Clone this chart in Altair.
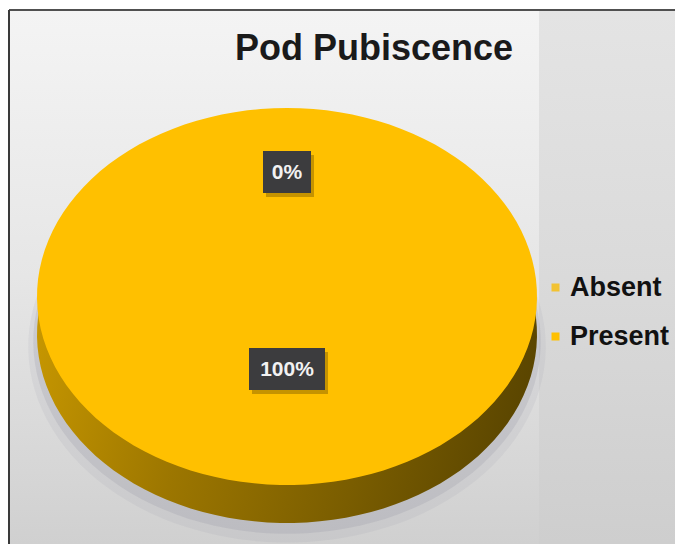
import altair as alt
import pandas as pd

# ---- data ----
categories = ["Absent", "Present"]
values = [0, 100]
label_texts = ["0%", "100%"]
colors = ["#F2C232", "#FFC000"]
title_text = "Pod Pubiscence"

df = pd.DataFrame({
    "category": categories,
    "value": values,
    "label": label_texts,
    "order": list(range(len(categories))),
})

W, H = 675, 544
CX, CY, RX, RY = 287, 296.5, 250, 188.5
DEPTH = 38
N = 120
LR = 0.5225      # label radius (fraction of radius)
LSHIFT = 26      # labels lifted (px)
FONT = "Liberation Sans"

xs = alt.Scale(domain=[-1, 1], range=[CX - RX, CX + RX], nice=False, zero=False)
ys = alt.Scale(domain=[-1, 1], range=[CY + RY, CY - RY], nice=False, zero=False)


def grad(stops, x1=0, y1=0, x2=0, y2=1):
    return {"gradient": "linear", "x1": x1, "y1": y1, "x2": x2, "y2": y2,
            "stops": [{"offset": o, "color": c} for o, c in stops]}


one = alt.Data(values=[{}])

# ---- background ----
bg_left = alt.Chart(one).mark_rect(
    color=grad([(0, "#f4f4f4"), (0.5, "#e6e6e6"), (1, "#d0d0d0")])
).encode(x=alt.value(10), x2=alt.value(539), y=alt.value(11), y2=alt.value(H))

bg_right = alt.Chart(one).mark_rect(
    color=grad([(0, "#e4e4e4"), (0.5, "#dadada"), (1, "#cecece")])
).encode(x=alt.value(539), x2=alt.value(W), y=alt.value(11), y2=alt.value(H))

border_top = alt.Chart(one).mark_rule(color="#505050", strokeWidth=2).encode(
    x=alt.value(9), x2=alt.value(W), y=alt.value(10))
border_left = alt.Chart(one).mark_rule(color="#3a3a3a", strokeWidth=2).encode(
    x=alt.value(9), y=alt.value(10), y2=alt.value(H))

# ---- pie geometry from the data ----
base = alt.Chart(df).transform_joinaggregate(
    total="sum(value)"
).transform_window(
    cum="sum(value)", sort=[alt.SortField("order")]
).transform_calculate(
    start="(datum.cum - datum.value) / datum.total",
    end="datum.cum / datum.total",
    mid="(datum.cum - datum.value / 2) / datum.total",
)

poly = base.transform_calculate(
    step=f"sequence(0, {N + 1})"
).transform_flatten(["step"]).transform_calculate(
    ang=f"2 * PI * (datum.start + (datum.end - datum.start) * (datum.step - 1) / {N - 1})"
).transform_calculate(
    px="datum.step == 0 ? 0 : sin(datum.ang)",
    py="datum.step == 0 ? 0 : cos(datum.ang)",
).transform_calculate(
    pys=f"datum.py - {DEPTH / RY}",
    sx1="datum.px * 1.015",
    sy1=f"datum.py * 1.02 - {(DEPTH + 7) / RY}",
    sx2="datum.px * 1.035",
    sy2=f"datum.py * 1.04 - {(DEPTH + 12) / RY}",
)

shadow2 = poly.transform_filter("datum.value > 0").mark_line(
    filled=True, fill="#8a8aa0", opacity=0.10, strokeWidth=0
).encode(x=alt.X("sx2:Q", scale=xs, axis=None), y=alt.Y("sy2:Q", scale=ys, axis=None),
         order="step:Q", detail="category:N")

shadow1 = poly.transform_filter("datum.value > 0").mark_line(
    filled=True, fill="#7a7a90", opacity=0.16, strokeWidth=0
).encode(x=alt.X("sx1:Q", scale=xs, axis=None), y=alt.Y("sy1:Q", scale=ys, axis=None),
         order="step:Q", detail="category:N")

side = poly.transform_filter("datum.value > 0").mark_line(
    filled=True, strokeWidth=0,
    fill=grad([(0, "#c89800"), (0.35, "#9c7600"), (0.7, "#7a5d00"), (1, "#5a4500")],
              x1=0, y1=0.4, x2=1, y2=0.6)
).encode(x=alt.X("px:Q", scale=xs, axis=None), y=alt.Y("pys:Q", scale=ys, axis=None),
         order="step:Q", detail="category:N")

top = poly.mark_line(filled=True, strokeWidth=0).encode(
    x=alt.X("px:Q", scale=xs, axis=None),
    y=alt.Y("py:Q", scale=ys, axis=None),
    color=alt.Color(
        "category:N",
        scale=alt.Scale(domain=categories, range=colors),
        legend=alt.Legend(
            orient="none", legendX=542, legendY=274, title=None,
            symbolType="square", symbolSize=64, symbolStrokeWidth=0,
            labelFont=FONT, labelFontSize=27, labelFontWeight="bold",
            labelColor="#111111", labelOffset=1, rowPadding=21, padding=0,
            labelLimit=200,
        ),
    ),
    order="step:Q",
)

# ---- data labels ----
lab = base.transform_calculate(
    lx=f"{LR} * sin(2 * PI * datum.mid)",
    ly=f"{LR} * cos(2 * PI * datum.mid) + {LSHIFT / RY}",
).transform_calculate(
    hw=f"(10 + 7 * length(datum.label)) / {RX}",
    hh=f"{21 / RY}",
).transform_calculate(
    bx1="datum.lx - datum.hw", bx2="datum.lx + datum.hw",
    by1="datum.ly - datum.hh", by2="datum.ly + datum.hh",
    sbx1=f"datum.lx - datum.hw + {3 / RX}", sbx2=f"datum.lx + datum.hw + {3 / RX}",
    sby1=f"datum.ly - datum.hh - {4 / RY}", sby2=f"datum.ly + datum.hh - {4 / RY}",
)

box_shadow = lab.mark_rect(color="#5a4000", opacity=0.35).encode(
    x=alt.X("sbx1:Q", scale=xs, axis=None), x2="sbx2:Q",
    y=alt.Y("sby1:Q", scale=ys, axis=None), y2="sby2:Q")

box = lab.mark_rect(color="#3c3c3e").encode(
    x=alt.X("bx1:Q", scale=xs, axis=None), x2="bx2:Q",
    y=alt.Y("by1:Q", scale=ys, axis=None), y2="by2:Q")

text = lab.mark_text(font=FONT, fontSize=21, fontWeight="bold", color="#f2f2f2",
                     align="center", baseline="middle", dy=1).encode(
    x=alt.X("lx:Q", scale=xs, axis=None),
    y=alt.Y("ly:Q", scale=ys, axis=None),
    text="label:N")

title = alt.Chart(alt.Data(values=[{"t": title_text}])).mark_text(
    font=FONT, fontSize=36, fontWeight="bold", color="#1a1a1a",
    align="center", baseline="alphabetic"
).encode(x=alt.value(374), y=alt.value(60), text="t:N")

chart = alt.layer(
    bg_left, bg_right, border_top, border_left,
    shadow2, shadow1, side, top,
    box_shadow, box, text, title,
).properties(
    width=W, height=H, padding=0, autosize=alt.AutoSizeParams(type="none"),
    background="white",
).configure_view(stroke=None)

chart.save("out.html", embed_options={"renderer": "svg", "actions": False})
